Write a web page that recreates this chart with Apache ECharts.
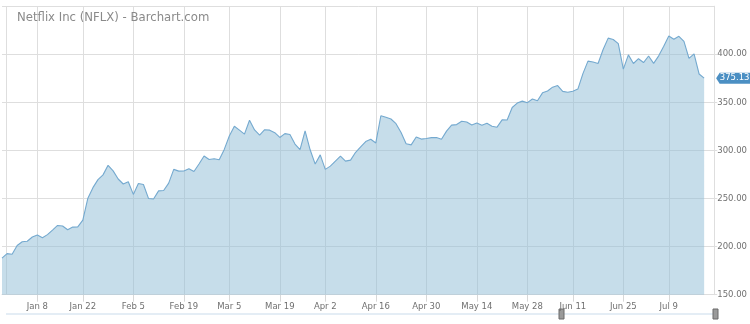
<!DOCTYPE html>
<html>
<head>
<meta charset="utf-8">
<script src="https://cdn.jsdelivr.net/npm/echarts@6/dist/echarts.min.js"></script>
<style>html,body{margin:0;padding:0;background:#fff;}#c{width:750px;height:324px;}</style>
</head>
<body>
<div id="c"></div>
<script>
var dates = ['Dec 27','Dec 28','Dec 29',
'Jan 2','Jan 3','Jan 4','Jan 5','Jan 8','Jan 9','Jan 10','Jan 11','Jan 12','Jan 16','Jan 17','Jan 18','Jan 19','Jan 22','Jan 23','Jan 24','Jan 25','Jan 26','Jan 29','Jan 30','Jan 31',
'Feb 1','Feb 2','Feb 5','Feb 6','Feb 7','Feb 8','Feb 9','Feb 12','Feb 13','Feb 14','Feb 15','Feb 16','Feb 20','Feb 21','Feb 22','Feb 23','Feb 26','Feb 27','Feb 28',
'Mar 1','Mar 2','Mar 5','Mar 6','Mar 7','Mar 8','Mar 9','Mar 12','Mar 13','Mar 14','Mar 15','Mar 16','Mar 19','Mar 20','Mar 21','Mar 22','Mar 23','Mar 26','Mar 27','Mar 28','Mar 29',
'Apr 2','Apr 3','Apr 4','Apr 5','Apr 6','Apr 9','Apr 10','Apr 11','Apr 12','Apr 13','Apr 16','Apr 17','Apr 18','Apr 19','Apr 20','Apr 23','Apr 24','Apr 25','Apr 26','Apr 27','Apr 30',
'May 1','May 2','May 3','May 4','May 7','May 8','May 9','May 10','May 11','May 14','May 15','May 16','May 17','May 18','May 21','May 22','May 23','May 24','May 25','May 29','May 30','May 31',
'Jun 1','Jun 4','Jun 5','Jun 6','Jun 7','Jun 8','Jun 11','Jun 12','Jun 13','Jun 14','Jun 15','Jun 18','Jun 19','Jun 20','Jun 21','Jun 22','Jun 25','Jun 26','Jun 27','Jun 28','Jun 29',
'Jul 2','Jul 3','Jul 5','Jul 6','Jul 9','Jul 10','Jul 11','Jul 12','Jul 13','Jul 16','Jul 17','Jul 18'];

var closes = [188.0,192.7,192.0,
201.1,205.1,205.6,210.0,212.1,209.3,212.5,217.2,222.0,221.5,217.5,220.3,220.5,227.6,250.3,261.3,269.7,274.6,284.6,278.8,270.3,
265.1,267.4,254.3,265.7,264.6,250.1,249.5,258.0,258.3,266.0,280.3,278.5,278.6,281.0,278.1,285.9,294.2,290.6,291.4,
290.4,301.1,315.0,325.2,321.2,317.0,331.4,321.3,315.9,321.6,321.1,318.5,313.5,317.5,316.5,306.7,300.9,320.4,300.7,285.8,295.4,
280.3,283.7,288.9,294.0,288.9,289.9,298.1,303.7,309.3,311.7,307.8,336.1,334.5,332.7,327.8,318.7,307.0,305.8,314.0,311.8,312.5,
313.3,313.4,311.7,320.1,326.3,326.9,330.3,329.6,326.5,328.5,326.1,328.2,325.2,324.2,331.8,331.6,344.7,349.3,351.3,349.7,353.5,351.6,
359.9,361.8,365.8,367.5,361.4,360.6,361.5,363.8,379.9,392.9,392.0,390.4,405.0,416.8,415.4,411.1,384.5,399.4,390.4,395.4,391.4,
398.2,390.5,398.4,408.3,419.0,415.6,418.7,413.5,395.8,400.5,379.5,375.13];

var tickDates  = ['Jan 8','Jan 22','Feb 5','Feb 20','Mar 5','Mar 19','Apr 2','Apr 16','Apr 30','May 14','May 29','Jun 11','Jun 25','Jul 9'];
var tickLabels = ['Jan 8','Jan 22','Feb 5','Feb 19','Mar 5','Mar 19','Apr 2','Apr 16','Apr 30','May 14','May 28','Jun 11','Jun 25','Jul 9'];

var titleText = 'Netflix Inc (NFLX) - Barchart.com';
var lastIdx = closes.length - 1;
var lastVal = closes[lastIdx];

function isTick(i) { return tickDates.indexOf(dates[i]) >= 0; }

var font = 'DejaVu Sans';
var chart = echarts.init(document.getElementById('c'));
chart.setOption({
  animation: false,
  backgroundColor: '#fff',
  title: {
    text: titleText, left: 12, top: 7,
    textStyle: { fontFamily: font, fontSize: 11.7, fontWeight: 'normal', color: '#8a8a8a' }
  },
  grid: { left: 2, right: 34.3, top: 6.2, bottom: 29.3, containLabel: false },
  xAxis: {
    type: 'category', data: dates, boundaryGap: false, max: 141,
    axisLine: { show: true, lineStyle: { color: '#dedede', width: 1 } },
    axisTick: { show: true, length: 7, interval: function (i) { return isTick(i); }, lineStyle: { color: '#d8d8d8' } },
    axisLabel: {
      interval: function (i) { return isTick(i); },
      formatter: function (v) { var k = tickDates.indexOf(v); return k >= 0 ? tickLabels[k] : ''; },
      fontFamily: font, fontSize: 8.5, color: '#707070', margin: 8
    },
    splitLine: { show: true, interval: function (i) { return isTick(i); }, lineStyle: { color: '#dedede', width: 1 } }
  },
  yAxis: {
    type: 'value', position: 'right', min: 150, max: 450, interval: 50,
    axisLine: { show: true, lineStyle: { color: '#dedede' } },
    axisTick: { show: true, length: 3, lineStyle: { color: '#dedede' } },
    axisLabel: { showMaxLabel: false, formatter: function (v) { return v.toFixed(2); }, fontFamily: font, fontSize: 8.5, color: '#707070', margin: 3 },
    splitLine: { show: true, lineStyle: { color: '#dedede', width: 1 } }
  },
  series: [{
    type: 'line', data: closes, symbol: 'none', smooth: false,
    lineStyle: { color: '#74a9cf', width: 1.1 },
    areaStyle: { color: 'rgba(142,187,214,0.5)', opacity: 1 },
    markPoint: {
      silent: true,
      symbol: 'path://M0,6 L4,0 L40,0 L40,12 L4,12 Z',
      symbolSize: [35, 11],
      symbolOffset: [29.5, 0],
      itemStyle: { color: '#4b8fc3' },
      label: { show: true, position: 'inside', offset: [1, 0], color: '#fff', fontFamily: font, fontSize: 8.5,
               formatter: function (p) { return p.value.toFixed(2); } },
      data: [{ coord: [lastIdx, lastVal], value: lastVal }]
    }
  }],
  graphic: [
    { type: 'line', z: -10, shape: { x1: 6.5, y1: 6, x2: 6.5, y2: 295 }, style: { stroke: '#dedede', lineWidth: 1 } },
    { type: 'rect', shape: { x: 6, y: 313, width: 709, height: 2 }, style: { fill: '#e4edf5' } },
    { type: 'rect', shape: { x: 559, y: 309, width: 5, height: 10 }, style: { fill: '#9a9a9a', stroke: '#6a6a6a', lineWidth: 1 } },
    { type: 'rect', shape: { x: 713, y: 309, width: 5, height: 10 }, style: { fill: '#9a9a9a', stroke: '#6a6a6a', lineWidth: 1 } }
  ]
});
</script>
</body>
</html>
